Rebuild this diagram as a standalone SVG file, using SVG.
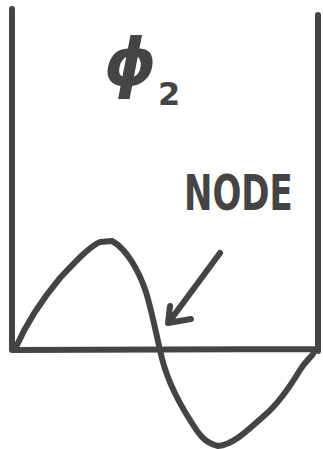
<svg xmlns="http://www.w3.org/2000/svg" width="323" height="449" viewBox="0 0 323 449">
<style>
.ink{fill:none;stroke:#444;stroke-width:6;stroke-linecap:round;stroke-linejoin:round}
.lbl{fill:#444;font-family:"DejaVu Sans","Liberation Sans",sans-serif;font-weight:bold}
</style>
<rect width="323" height="449" fill="#fff"/>
<g id="well">
<path class="ink" d="M12,9 L12,350 L318,349 M318,15 L318,351"/>
</g>
<g id="wave">
<path class="ink" d="M16,347 C28,320 45,296 60,278 C75,262 90,246 100,242 L112,241 C125,248 138,268 146,292 C152,312 156,333 160,350 C164,370 174,395 190,420 C198,433 204,443 218,446 C232,445 245,433 265,415 C280,402 294,380 300,370 C305,362 310,358 313,354"/>
</g>
<g id="phi-label">
<text class="lbl" x="104" y="85" font-size="66" font-style="italic">ϕ</text>
<text class="lbl" x="158" y="105" font-size="32">2</text>
</g>
<g id="node-label">
<text class="lbl" transform="translate(184,210) scale(1,1.45)" x="0" y="0" font-size="34">NODE</text>
</g>
<g id="connectors">
<path class="ink" d="M220,253 L169,322 M170,306 L168,323 L191,319"/>
</g>
</svg>
